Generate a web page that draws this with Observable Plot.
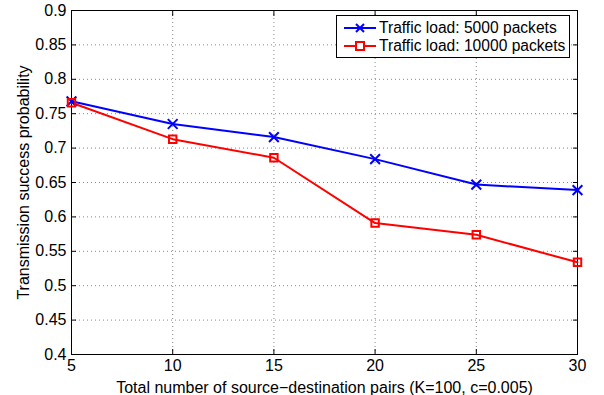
<!DOCTYPE html>
<html>
<head>
<meta charset="utf-8">
<script src="https://cdn.jsdelivr.net/npm/d3@7"></script>
<script src="https://cdn.jsdelivr.net/npm/@observablehq/plot@0.6"></script>
<style>
  html, body { margin: 0; padding: 0; background: #fff; }
  #wrap { position: relative; width: 604px; height: 395px; font-family: "Liberation Sans", Arial, sans-serif; }
  #legend { position: absolute; left: 336px; top: 15px; width: 232px; height: 41px; border: 1px solid #000; background: #fff; font-size: 15.6px; }
  #legend .row { position: absolute; left: 0; height: 18px; display: flex; align-items: center; }
  #legend svg { display: block; }
  #legend span { margin-left: 0px; white-space: nowrap; }
</style>
</head>
<body>
<div id="wrap"></div>
<script>
const pairs = [5, 10, 15, 20, 25, 30];
const load5000 = [0.768, 0.735, 0.716, 0.684, 0.647, 0.639];
const load10000 = [0.766, 0.713, 0.686, 0.591, 0.574, 0.534];
const xTicks = [5, 10, 15, 20, 25, 30];
const yTicks = [0.4, 0.45, 0.5, 0.55, 0.6, 0.65, 0.7, 0.75, 0.8, 0.85, 0.9];
const yTickLabels = ["0.4", "0.45", "0.5", "0.55", "0.6", "0.65", "0.7", "0.75", "0.8", "0.85", "0.9"];
const seriesNames = ["Traffic load: 5000 packets", "Traffic load: 10000 packets"];
const seriesColors = ["#0000ff", "#ff0000"];
const xLabel = "Total number of source\u2212destination pairs (K=100, c=0.005)";
const yLabel = "Transmission success probability";

const s1 = pairs.map((x, i) => ({x, y: load5000[i]}));
const s2 = pairs.map((x, i) => ({x, y: load10000[i]}));
const innerX = xTicks.slice(1, -1);
const innerY = yTicks.slice(1, -1);

const chart = Plot.plot({
  width: 604,
  height: 395,
  marginLeft: 71,
  marginRight: 27,
  marginTop: 10,
  marginBottom: 41,
  style: {fontFamily: "'Liberation Sans', Arial, sans-serif", fontSize: "16px", color: "#000", background: "#fff"},
  x: {domain: [5, 30]},
  y: {domain: [0.4, 0.9]},
  marks: [
    Plot.ruleX(innerX, {stroke: "#888", strokeWidth: 1, strokeDasharray: "1,3"}),
    Plot.ruleY(innerY, {stroke: "#888", strokeWidth: 1, strokeDasharray: "1,3"}),
    Plot.axisX({ticks: xTicks, anchor: "bottom", tickSize: -5, tickPadding: 10, tickFormat: d => String(d), fontSize: 16,
      label: xLabel, labelAnchor: "center", labelArrow: "none", labelOffset: 38}),
    Plot.axisX({ticks: xTicks, anchor: "top", tickSize: -5, tickFormat: () => "", label: null}),
    Plot.axisY({ticks: yTicks, anchor: "left", tickSize: -5, tickPadding: 10, tickFormat: d => yTickLabels[yTicks.indexOf(d)] ?? String(d), fontSize: 16,
      label: yLabel, labelAnchor: "center", labelArrow: "none", labelOffset: 54}),
    Plot.axisY({ticks: yTicks, anchor: "right", tickSize: -5, tickFormat: () => "", label: null}),
    Plot.frame({stroke: "#000", strokeWidth: 1}),
    Plot.line(s1, {x: "x", y: "y", stroke: seriesColors[0], strokeWidth: 2}),
    Plot.line(s2, {x: "x", y: "y", stroke: seriesColors[1], strokeWidth: 2}),
    Plot.dot(s1, {x: "x", y: "y", symbol: "times", r: 4.5, stroke: seriesColors[0], strokeWidth: 2}),
    Plot.dot(s2, {x: "x", y: "y", symbol: "square", r: 4.2, stroke: seriesColors[1], fill: "none", strokeWidth: 2})
  ]
});
d3.select(chart).selectAll("[aria-label='x-axis label'], [aria-label='y-axis label']").attr("font-size", 16);
document.getElementById("wrap").appendChild(chart);

// legend
const legend = document.createElement("div");
legend.id = "legend";
seriesNames.forEach((name, i) => {
  const row = document.createElement("div");
  row.className = "row";
  row.style.top = (i === 0 ? 3 : 21) + "px";
  const svg = d3.create("svg").attr("width", 42).attr("height", 18);
  svg.append("line").attr("x1", 7).attr("x2", 39).attr("y1", 9).attr("y2", 9).attr("stroke", seriesColors[i]).attr("stroke-width", 2);
  if (i === 0) {
    svg.append("path").attr("d", "M19,5L27,13M19,13L27,5").attr("stroke", seriesColors[i]).attr("stroke-width", 2);
  } else {
    svg.append("rect").attr("x", 19).attr("y", 5).attr("width", 8).attr("height", 8).attr("fill", "#fff").attr("stroke", seriesColors[i]).attr("stroke-width", 2);
  }
  row.appendChild(svg.node());
  const span = document.createElement("span");
  span.textContent = name;
  row.appendChild(span);
  legend.appendChild(row);
});
document.getElementById("wrap").appendChild(legend);
</script>
</body>
</html>
